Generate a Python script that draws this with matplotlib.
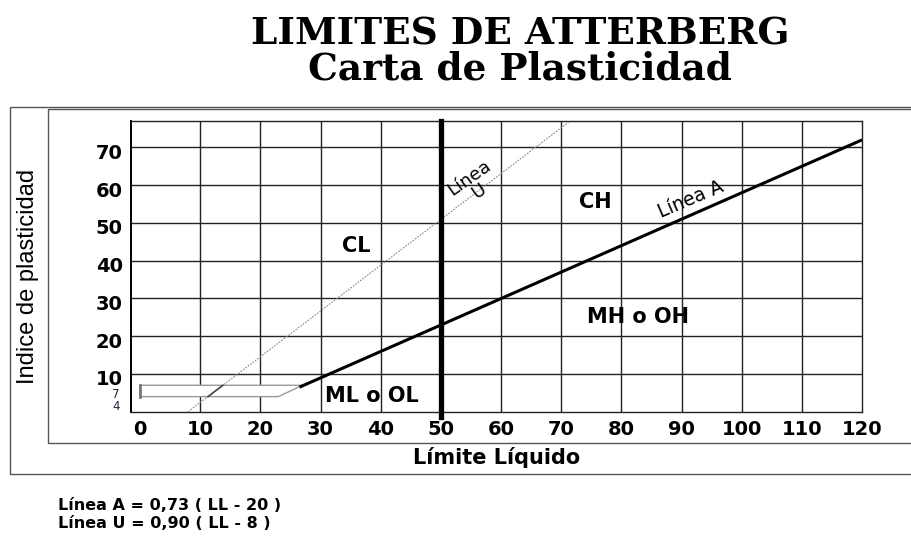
import numpy as np
import matplotlib
matplotlib.use("Agg")
import matplotlib.pyplot as plt
from matplotlib.patches import Rectangle, Polygon
import matplotlib.transforms as mtransforms

x_ticks = [0, 10, 20, 30, 40, 50, 60, 70, 80, 90, 100, 110, 120]
y_ticks = [4, 7, 10, 20, 30, 40, 50, 60, 70]
y_labels = ['4', '7', '10', '20', '30', '40', '50', '60', '70']

linea_a_ll = [26.5, 120]
linea_a_ip = [6.5, 72]
linea_u_ll = [8, 71.5]
linea_u_ip = [0, 77]
ll_50 = 50

zona_ll = [0, 0, 27, 23]
zona_ip = [4, 7, 7, 4]

zonas = ['CL', 'CH', 'MH o OH', 'ML o OL']
zonas_ll = [36, 75.6, 82.8, 38.6]
zonas_ip = [43.8, 55.6, 25.2, 4.2]

W, H = 911, 536
fig = plt.figure(figsize=(W/100, H/100), dpi=100)

# marcos exteriores (en pixeles)
def marco(x0, y0, x1, y1):
    r = Rectangle((x0/W, 1-y1/H), (x1-x0)/W, (y1-y0)/H, transform=fig.transFigure,
                  fill=False, edgecolor='#555555', lw=1.0, clip_on=False)
    fig.add_artist(r)

marco(10, 106.5, 930, 474)
marco(47.5, 109, 930, 442.5)

ax = fig.add_axes([131/W, 1-411.7/H, (862-131)/W, (411.7-121)/H])
ax.set_xlim(-1.5, 120)
ax.set_ylim(0, 77)

# rejilla
for x in x_ticks[1:-1]:
    ax.axvline(x, color='#222222', lw=1.0, zorder=1)
for y in y_ticks[2:]:
    ax.axhline(y, color='#222222', lw=1.0, zorder=1)

for s in ax.spines.values():
    s.set_color('#222222')
    s.set_linewidth(1.0)
ax.spines['left'].set_color('black')
ax.spines['left'].set_linewidth(1.4)

# zona CL-ML
ax.add_patch(Polygon(list(zip(zona_ll, zona_ip)), closed=True, facecolor='white',
                     edgecolor='#999999', lw=1.0, zorder=3))
ax.plot(zona_ll[:2], zona_ip[:2], color='#777777', lw=2.0, zorder=4)

# linea U
ax.plot(linea_u_ll, linea_u_ip, color='#888888', lw=0.8, ls=(0, (1.5, 1.2)), zorder=5)
u_in = np.interp(zona_ip[:2], linea_u_ip, linea_u_ll)
ax.plot(u_in, zona_ip[:2], color='#444444', lw=1.2, zorder=5)

# linea A
ax.plot(linea_a_ll, linea_a_ip, color='black', lw=2.2, zorder=6, solid_capstyle='butt')

# LL = 50
ax.plot([ll_50, ll_50], [-1.5, 77], color='black', lw=3.8, zorder=7, clip_on=False)

for t, x, y in zip(zonas, zonas_ll, zonas_ip):
    ax.text(x, y, t, fontsize=15, fontweight='bold', family='DejaVu Sans',
            ha='center', va='center', zorder=8)

ax.text(55.5, 60.1, 'Línea\nU', fontsize=13, rotation=35, ha='center', va='center',
        linespacing=0.9, family='DejaVu Sans', zorder=8)
ax.text(91.5, 56.3, 'Línea A', fontsize=13.5, rotation=23, ha='center', va='center',
        family='DejaVu Sans', zorder=8)

ax.set_xticks(x_ticks)
ax.set_xticklabels([str(v) for v in x_ticks], fontsize=14, fontweight='bold', family='DejaVu Sans')
ax.set_yticks(y_ticks)
ax.set_yticklabels(y_labels, fontsize=14, fontweight='bold', family='DejaVu Sans')
ax.tick_params(length=0, pad=6)
off = mtransforms.ScaledTranslation(0, -4/100, fig.dpi_scale_trans)
off_small = mtransforms.ScaledTranslation(-3/100, -8/100, fig.dpi_scale_trans)
for lab in ax.get_yticklabels():
    if lab.get_text() in ('4', '7'):
        lab.set_transform(lab.get_transform() + off_small)
        lab.set_fontsize(8.5)
        lab.set_fontweight('normal')
        lab.set_color('#222244')
    else:
        lab.set_transform(lab.get_transform() + off)

ax.set_xlabel('Límite Líquido', fontsize=15, fontweight='bold', family='DejaVu Sans', labelpad=6)
fig.text(28/W, 1-276/H, 'Indice de plasticidad', rotation=90, ha='center', va='center',
         fontsize=17, family=['Liberation Sans Narrow', 'Liberation Sans'])

fig.text(520/W, 1-34/H, 'LIMITES DE ATTERBERG', ha='center', va='center',
         fontsize=27, fontweight='bold', family='DejaVu Serif')
fig.text(520/W, 1-69/H, 'Carta de Plasticidad', ha='center', va='center',
         fontsize=27, fontweight='bold', family='DejaVu Serif')

fig.text(58/W, 1-505/H, 'Línea A = 0,73 ( LL - 20 )', ha='left', va='center',
         fontsize=11.5, fontweight='bold', family='DejaVu Sans')
fig.text(58/W, 1-523/H, 'Línea U = 0,90 ( LL - 8 )', ha='left', va='center',
         fontsize=11.5, fontweight='bold', family='DejaVu Sans')

fig.savefig('out.png', dpi=100)
